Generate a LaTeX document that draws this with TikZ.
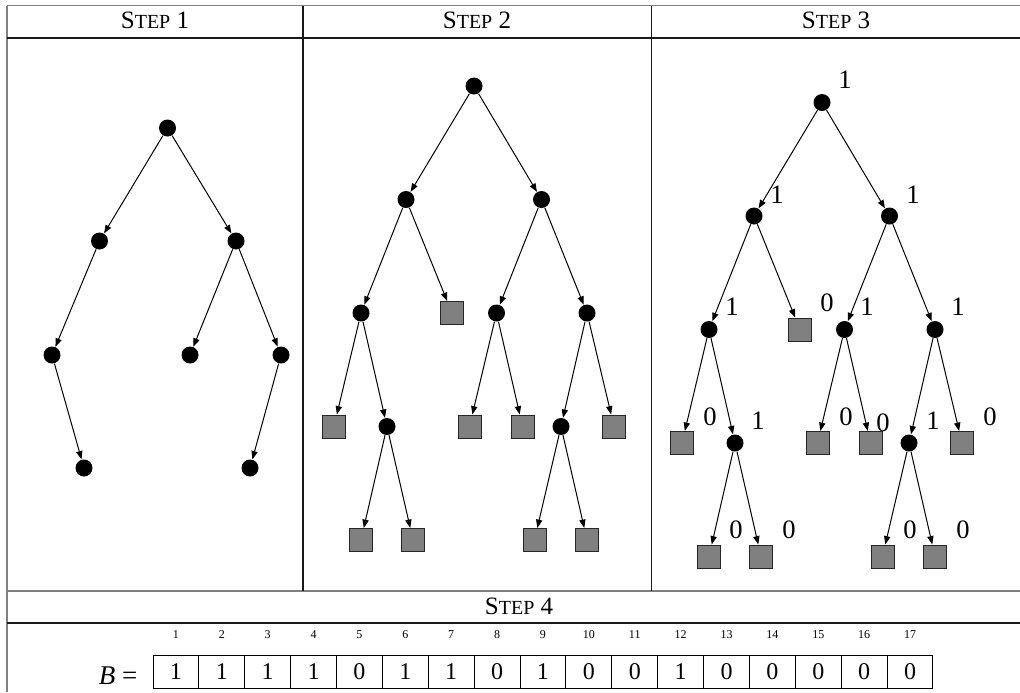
\documentclass[tikz,border=0pt]{standalone}
\usepackage{fontspec}
\setmainfont{Liberation Serif}
\usetikzlibrary{arrows.meta}
\tikzset{
  framegray/.style={line width=0.8pt, black!50},
  framerule/.style={line width=0.6pt, black!90},
  dot/.style={circle, fill=black, inner sep=0pt, minimum size=8.5pt},
  leaf/.style={rectangle, draw=black!85, fill=black!50, line width=0.5pt, inner sep=0pt, minimum size=11.5pt},
  edge/.style={line width=0.5pt, -{Triangle[length=4.2pt,width=3.1pt]}},
  bit/.style={font=\fontsize{13.3}{14}\selectfont, inner sep=0pt},
  cell/.style={draw, line width=0.5pt, minimum width=22.94pt, minimum height=16.5pt, inner sep=0pt, font=\fontsize{12}{14}\selectfont},
  idx/.style={font=\fontsize{6}{7}\selectfont, inner sep=0pt},
  head/.style={font=\fontsize{12.5}{14}\selectfont, inner sep=0pt},
}
\newcommand\stepname[1]{S{\fontsize{10}{12}\selectfont TEP}~#1}

\begin{document}
\begin{tikzpicture}[x=0.5pt,y=-0.5pt]
\useasboundingbox (0,0) rectangle (1020,692);
% frame
\draw[framegray] (7,5.5) -- (1020,5.5);
\draw[framegray] (7,5.5) -- (7,692);
\draw[framegray] (7,591) -- (1020,591);
\draw[framerule] (7,38) -- (1020,38);
\draw[framerule] (7,623) -- (1020,623);
\draw[framerule] (303,5.5) -- (303,591);
\draw[framerule] (651.5,5.5) -- (651.5,591);
\node[head] (h1) at (155,20) {\stepname{1}};
\node[head] (h2) at (477,20) {\stepname{2}};
\node[head] (h3) at (836,20) {\stepname{3}};
\node[head] (h4) at (519,606) {\stepname{4}};
% step 1
\node[dot] (s1r) at (167.5,128) {};
\node[dot] (s1a) at (99.5,241) {};
\node[dot] (s1b) at (236,241) {};
\node[dot] (s1aa) at (52,355) {};
\node[dot] (s1ba) at (190,355) {};
\node[dot] (s1bb) at (281,355) {};
\node[dot] (s1aab) at (84,468) {};
\node[dot] (s1bba) at (250,468) {};
\draw[edge] (s1r) -- (s1a);
\draw[edge] (s1r) -- (s1b);
\draw[edge] (s1a) -- (s1aa);
\draw[edge] (s1b) -- (s1ba);
\draw[edge] (s1b) -- (s1bb);
\draw[edge] (s1aa) -- (s1aab);
\draw[edge] (s1bb) -- (s1bba);
% step 2
\node[dot] (s2r) at (474,86) {};
\node[dot] (s2a) at (406,199.5) {};
\node[dot] (s2b) at (541.5,199.5) {};
\node[dot] (s2aa) at (361,313) {};
\node[leaf] (s2ab) at (452,313) {};
\node[dot] (s2ba) at (496.5,313) {};
\node[dot] (s2bb) at (587,313) {};
\node[leaf] (s2aaa) at (334,426.5) {};
\node[dot] (s2aab) at (387,426.5) {};
\node[leaf] (s2baa) at (469.5,426.5) {};
\node[leaf] (s2bab) at (522.5,426.5) {};
\node[dot] (s2bba) at (561,426.5) {};
\node[leaf] (s2bbb) at (614,426.5) {};
\node[leaf] (s2aaba) at (361,540) {};
\node[leaf] (s2aabb) at (413,540) {};
\node[leaf] (s2bbaa) at (534.5,540) {};
\node[leaf] (s2bbab) at (587,540) {};
\draw[edge] (s2r) -- (s2a);
\draw[edge] (s2r) -- (s2b);
\draw[edge] (s2a) -- (s2aa);
\draw[edge] (s2a) -- (s2ab);
\draw[edge] (s2b) -- (s2ba);
\draw[edge] (s2b) -- (s2bb);
\draw[edge] (s2aa) -- (s2aaa);
\draw[edge] (s2aa) -- (s2aab);
\draw[edge] (s2ba) -- (s2baa);
\draw[edge] (s2ba) -- (s2bab);
\draw[edge] (s2bb) -- (s2bba);
\draw[edge] (s2bb) -- (s2bbb);
\draw[edge] (s2aab) -- (s2aaba);
\draw[edge] (s2aab) -- (s2aabb);
\draw[edge] (s2bba) -- (s2bbaa);
\draw[edge] (s2bba) -- (s2bbab);
% step 3
\node[dot] (s3r) at (822,102.5) {};
\node[dot] (s3a) at (754,216) {};
\node[dot] (s3b) at (889.5,216) {};
\node[dot] (s3aa) at (709,329.5) {};
\node[leaf] (s3ab) at (800,329.5) {};
\node[dot] (s3ba) at (844.5,329.5) {};
\node[dot] (s3bb) at (935,329.5) {};
\node[leaf] (s3aaa) at (682,443) {};
\node[dot] (s3aab) at (735,443) {};
\node[leaf] (s3baa) at (817.5,443) {};
\node[leaf] (s3bab) at (870.5,443) {};
\node[dot] (s3bba) at (909,443) {};
\node[leaf] (s3bbb) at (962,443) {};
\node[leaf] (s3aaba) at (709,556.5) {};
\node[leaf] (s3aabb) at (761,556.5) {};
\node[leaf] (s3bbaa) at (882.5,556.5) {};
\node[leaf] (s3bbab) at (935,556.5) {};
\draw[edge] (s3r) -- (s3a);
\draw[edge] (s3r) -- (s3b);
\draw[edge] (s3a) -- (s3aa);
\draw[edge] (s3a) -- (s3ab);
\draw[edge] (s3b) -- (s3ba);
\draw[edge] (s3b) -- (s3bb);
\draw[edge] (s3aa) -- (s3aaa);
\draw[edge] (s3aa) -- (s3aab);
\draw[edge] (s3ba) -- (s3baa);
\draw[edge] (s3ba) -- (s3bab);
\draw[edge] (s3bb) -- (s3bba);
\draw[edge] (s3bb) -- (s3bbb);
\draw[edge] (s3aab) -- (s3aaba);
\draw[edge] (s3aab) -- (s3aabb);
\draw[edge] (s3bba) -- (s3bbaa);
\draw[edge] (s3bba) -- (s3bbab);
% step 3 bits
\node[bit] (b-r) at (845,80) {1};
\node[bit] (b-a) at (777,195) {1};
\node[bit] (b-b) at (913,195) {1};
\node[bit] (b-aa) at (732,307) {1};
\node[bit] (b-ab) at (827,303) {0};
\node[bit] (b-ba) at (867,307) {1};
\node[bit] (b-bb) at (958,307) {1};
\node[bit] (b-aaa) at (710,417) {0};
\node[bit] (b-aab) at (758,421) {1};
\node[bit] (b-baa) at (846,417) {0};
\node[bit] (b-bab) at (883,423) {0};
\node[bit] (b-bba) at (933,421) {1};
\node[bit] (b-bbb) at (990,417) {0};
\node[bit] (b-aaba) at (736,530) {0};
\node[bit] (b-aabb) at (789,530) {0};
\node[bit] (b-bbaa) at (910,530) {0};
\node[bit] (b-bbab) at (963,530) {0};
% step 4
\node[head, font=\fontsize{13.5}{14}\selectfont] (beq) at (118,676) {\textit{B} =};
\foreach \v [count=\i] in {1,1,1,1,0,1,1,0,1,0,0,1,0,0,0,0,0} {
  \node[cell] (c\i) at ({153+45.88*(\i-0.5)},671.5) {\v};
  \node[idx] (n\i) at ({153+45.88*(\i-0.5)},635) {\i};
}
\end{tikzpicture}
\end{document}
